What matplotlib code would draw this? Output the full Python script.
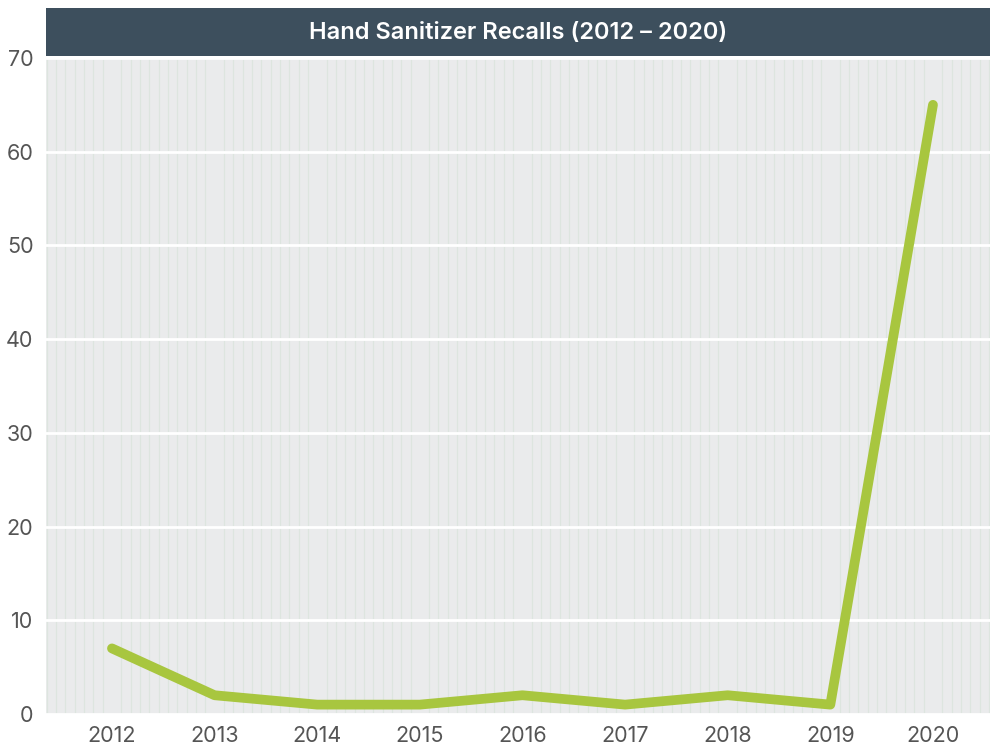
import matplotlib
matplotlib.use("Agg")
import matplotlib.pyplot as plt
from matplotlib.ticker import MultipleLocator

years = [2012, 2013, 2014, 2015, 2016, 2017, 2018, 2019, 2020]
recalls = [7, 2, 1, 1, 2, 1, 2, 1, 65]
title = "Hand Sanitizer Recalls (2012 \u2013 2020)"

plt.rcParams['font.family'] = ['Inter', 'DejaVu Sans']

fig = plt.figure(figsize=(9.95, 7.46), dpi=100)
fig.patch.set_facecolor("white")

# main plot area
ax = fig.add_axes([0.0462, 0.0429, 0.9488, 0.8794])
ax.set_facecolor("#EAEBEC")
ax.plot(years, recalls, color="#A8C63F", linewidth=7,
        solid_capstyle="round", solid_joinstyle="round", zorder=3)
ax.set_xlim(2011.357, 2020.556)
ax.set_ylim(0, 70)
ax.set_xticks(years)
ax.set_yticks(range(0, 71, 10))
ax.xaxis.set_minor_locator(MultipleLocator(1 / 11))
ax.grid(axis="x", which="minor", color="#DDE5DF", linewidth=0.9, zorder=0)
ax.grid(axis="y", which="major", color="white", linewidth=2.0, zorder=1)
ax.tick_params(which="both", length=0)
ax.tick_params(axis="x", pad=9, labelsize=15.5, labelcolor="#555555")
ax.tick_params(axis="y", pad=9, labelsize=15.5, labelcolor="#555555")
for s in ax.spines.values():
    s.set_visible(False)

# title bar
tax = fig.add_axes([0.0462, 0.925, 0.9488, 0.0643])
tax.set_facecolor("#3D4F5D")
tax.set_xticks([])
tax.set_yticks([])
for s in tax.spines.values():
    s.set_visible(False)
tax.text(0.5, 0.48, title, color="white", fontsize=17, fontweight="semibold",
         ha="center", va="center", transform=tax.transAxes)

fig.savefig("out.png", dpi=100)
